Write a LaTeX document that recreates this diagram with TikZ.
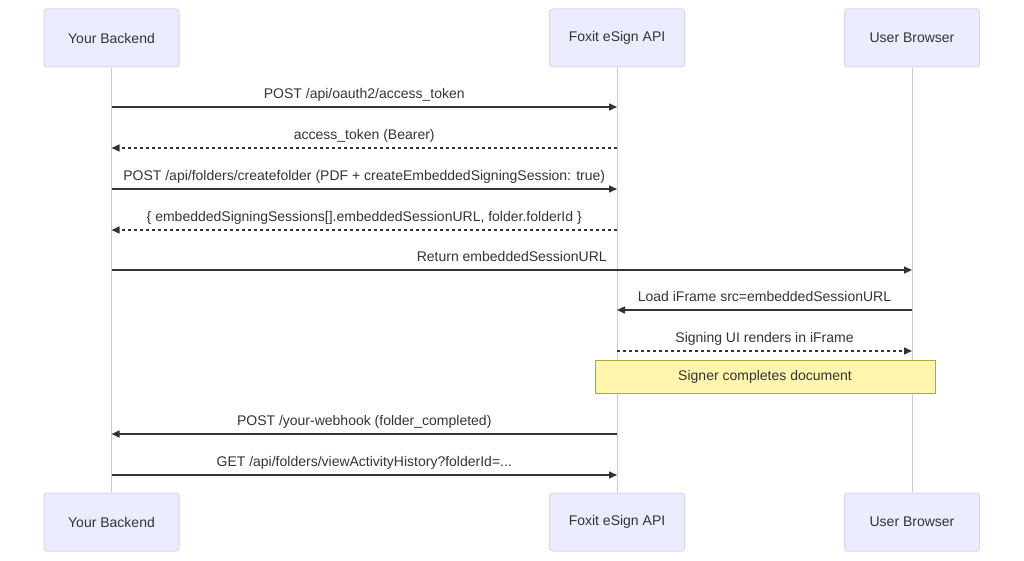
\documentclass[tikz,border=0pt]{standalone}
\usepackage{fontspec}
\setmainfont{Liberation Sans}
\usetikzlibrary{arrows.meta}
\definecolor{actorfill}{HTML}{ECECFF}
\definecolor{actorline}{HTML}{D9D5F3}
\definecolor{lifegray}{HTML}{CCCCCC}
\definecolor{msggray}{HTML}{333333}
\definecolor{notefill}{HTML}{FFF5AD}
\definecolor{noteline}{HTML}{AAAA33}

\begin{document}
\begin{tikzpicture}[
    x=1pt, y=-1pt,
    every node/.style={font=\fontsize{14}{16}\selectfont, text=msggray},
    actor/.style={draw=actorline, fill=actorfill, rounded corners=3pt, minimum width=135pt, minimum height=58pt, line width=1pt},
    lifeline/.style={draw=lifegray, line width=1pt},
    call/.style={-{Triangle[length=8pt, width=7pt]}, draw=msggray, line width=1.5pt},
    reply/.style={call, dash pattern=on 3pt off 3pt},
    lbl/.style={midway, yshift=12pt, inner sep=0pt, text height=10pt, text depth=3pt},
    note/.style={draw=noteline, fill=notefill, minimum width=340pt, minimum height=33pt, line width=1pt, text height=10pt, text depth=3pt}
]
\useasboundingbox (0,0) rectangle (1024,561);

% participants
\node[actor] (be) at (111.5,38) {Your Backend};
\node[actor] (api) at (617,38) {Foxit eSign API};
\node[actor] (ub) at (912,38) {User Browser};
\node[actor] (beEnd) at (111.5,522) {Your Backend};
\node[actor] (apiEnd) at (617,522) {Foxit eSign API};
\node[actor] (ubEnd) at (912,522) {User Browser};

\draw[lifeline] (be.south) -- (beEnd.north);
\draw[lifeline] (api.south) -- (apiEnd.north);
\draw[lifeline] (ub.south) -- (ubEnd.north);

% message rows
\coordinate (r1) at (0,107);
\coordinate (r2) at (0,148);
\coordinate (r3) at (0,189);
\coordinate (r4) at (0,230);
\coordinate (r5) at (0,270);
\coordinate (r6) at (0,310);
\coordinate (r7) at (0,351);
\coordinate (r8) at (0,434);
\coordinate (r9) at (0,475);

\draw[call] (be.south |- r1) -- node[lbl] {POST /api/oauth2/access\_token} (api.south |- r1);
\draw[reply] (api.south |- r2) -- node[lbl] {access\_token (Bearer)} (be.south |- r2);
\draw[call] (be.south |- r3) -- node[lbl] {POST /api/folders/createfolder (PDF + createEmbeddedSigningSession: true)} (api.south |- r3);
\draw[reply] (api.south |- r4) -- node[lbl] {\{ embeddedSigningSessions[].embeddedSessionURL, folder.folderId \}} (be.south |- r4);
\draw[call] (be.south |- r5) -- node[lbl] {Return embeddedSessionURL} (ub.south |- r5);
\draw[call] (ub.south |- r6) -- node[lbl] {Load iFrame src=embeddedSessionURL} (api.south |- r6);
\draw[reply] (api.south |- r7) -- node[lbl] {Signing UI renders in iFrame} (ub.south |- r7);

\node[note] (signed) at (765,376.5) {Signer completes document};

\draw[call] (api.south |- r8) -- node[lbl] {POST /your-webhook (folder\_completed)} (be.south |- r8);
\draw[call] (be.south |- r9) -- node[lbl] {GET /api/folders/viewActivityHistory?folderId=...} (api.south |- r9);
\end{tikzpicture}
\end{document}
